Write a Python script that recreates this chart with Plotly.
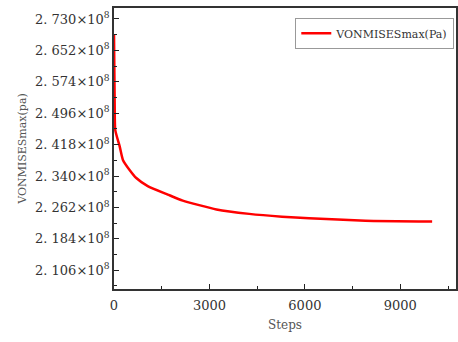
import plotly.graph_objects as go

steps = [0, 20, 40, 180, 280, 490, 700, 1060, 1690, 2160, 3220, 4250, 5280, 6130, 7900, 10000]
vonmises_e8 = [2.693, 2.529, 2.454, 2.413, 2.380, 2.355, 2.335, 2.315, 2.294, 2.279, 2.257, 2.246, 2.239, 2.235, 2.229, 2.227]
y_tick_vals_e8 = [2.106, 2.184, 2.262, 2.340, 2.418, 2.496, 2.574, 2.652, 2.730]
y_tick_labels = ["2. 106", "2. 184", "2. 262", "2. 340", "2. 418", "2. 496", "2. 574", "2. 652", "2. 730"]
x_tick_vals = [0, 3000, 6000, 9000]

vonmises = [v * 1e8 for v in vonmises_e8]
ytickvals = [v * 1e8 for v in y_tick_vals_e8]
yticktext = [t + "×10<sup>8</sup>" for t in y_tick_labels]

font_family = "DejaVu Serif, Liberation Serif, serif"

fig = go.Figure()
fig.add_trace(go.Scatter(
    x=steps, y=vonmises, mode="lines", name="VONMISESmax(Pa)",
    line=dict(color="#ff0000", width=2.5, shape="spline", smoothing=0.5),
))

fig.update_layout(
    width=458, height=342,
    margin=dict(l=114, r=0, t=8, b=53),
    paper_bgcolor="white", plot_bgcolor="white",
    font=dict(family=font_family, size=13, color="#333333"),
    showlegend=True,
    legend=dict(
        x=0.995, y=0.965, xanchor="right", yanchor="top",
        bgcolor="white", bordercolor="#999999", borderwidth=1,
        font=dict(family=font_family, size=11, color="#333333"),
        itemwidth=30, tracegroupgap=0,
    ),
    xaxis=dict(
        range=[0, 10750],
        tickmode="array", tickvals=x_tick_vals,
        ticks="inside", ticklen=5, tickwidth=1, tickcolor="#222222",
        minor=dict(ticks="inside", ticklen=3, tickwidth=1, tickcolor="#222222", dtick=1500, tick0=0),
        showline=True, linecolor="#333333", linewidth=1.5, mirror=True,
        showgrid=False, zeroline=False,
        ticklabelstandoff=4,
        title=dict(text="Steps", font=dict(size=12, color="#555555"), standoff=8),
        tickfont=dict(size=13, color="#333333"),
    ),
    yaxis=dict(
        range=[2.0594e8, 2.7573e8],
        tickmode="array", tickvals=ytickvals, ticktext=yticktext,
        ticks="inside", ticklen=5, tickwidth=1, tickcolor="#222222",
        minor=dict(ticks="inside", ticklen=3, tickwidth=1, tickcolor="#222222", dtick=0.039e8, tick0=2.106e8),
        showline=True, linecolor="#333333", linewidth=1.5, mirror=True,
        showgrid=False, zeroline=False,
        title=dict(text="VONMISESmax(pa)", font=dict(size=11, color="#555555"), standoff=6),
        tickfont=dict(size=13, color="#333333"),
    ),
)

fig.write_html("out.html")
